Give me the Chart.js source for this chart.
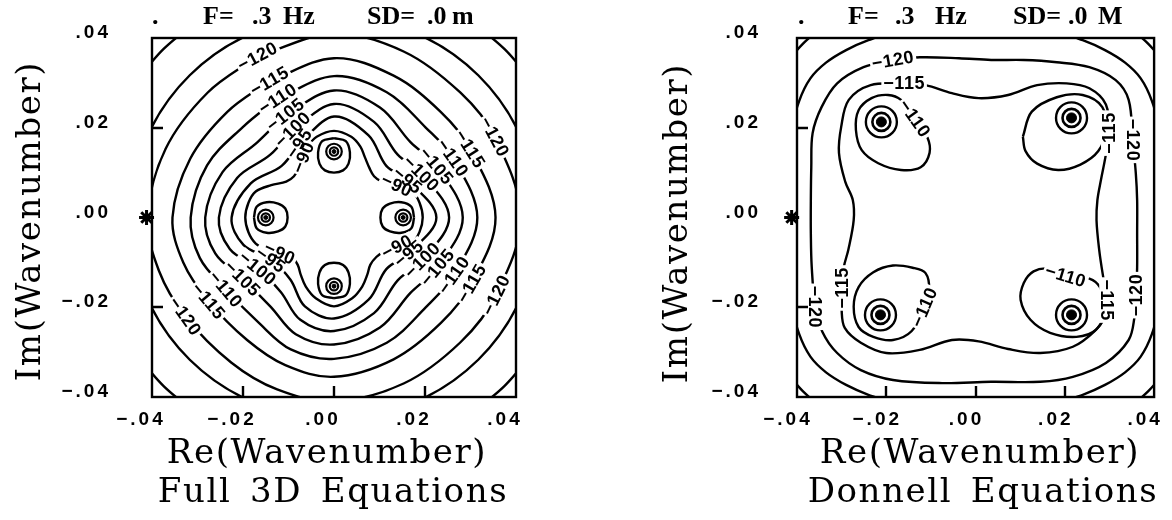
<!DOCTYPE html>
<html>
<head>
<meta charset="utf-8">
<title>Wavenumber contours</title>
<script src="https://cdn.jsdelivr.net/npm/chart.js@4.4.1/dist/chart.umd.min.js"></script>
<style>
  html, body { margin: 0; padding: 0; background: #fff; }
  #wrap { position: relative; width: 1172px; height: 520px; overflow: hidden; }
  .panel { position: absolute; top: 0; width: 586px; height: 520px; }
</style>
</head>
<body>
<div id="wrap">
  <div class="panel" style="left:0"><canvas id="left" width="586" height="520"></canvas></div>
  <div class="panel" style="left:586px"><canvas id="right" width="586" height="520"></canvas></div>
</div>
<script>
// all coordinates are in units of 1e-3 (axis runs -.04 .. .04)

// === Axes ===
const TICK_VALUES = [-40, -20, 0, 20, 40];
const TICK_LABELS = ['−.04', '−.02', '.00', '.02', '.04'];
const INNER_TICKS_X = [-20, 0, 20];
const INNER_TICKS_Y = [-20, 20];
const STAR = [-41.2, 0];

// === Left panel: Full 3D equations ===
const L_POLES = [[0, 14.7], [0, -15.3], [-15, 0], [15.2, 0]];

const L_130 = [
  [[-41.8, 32.6], [-37.5, 37.5], [-32.6, 41.8]],
  [[32.6, 41.8], [37.5, 37.5], [41.8, 32.6]],
  [[-41.8, -32.6], [-37.5, -37.5], [-32.6, -41.8]],
  [[32.6, -41.8], [37.5, -37.5], [41.8, -32.6]]
];
const L_125 = [[44.8, 0], [41.4, 17.2], [31.7, 31.7], [17.2, 41.4], [0, 44.8], [-17.2, 41.4], [-31.7, 31.7], [-41.4, 17.2], [-44.8, 0],
  [-41.4, -17.2], [-31.7, -31.7], [-17.2, -41.4], [0, -44.8], [17.2, -41.4], [31.7, -31.7], [41.4, -17.2], [44.8, 0]];
const L_120 = [[-16.8, 35.9], [-27.8, 27.8], [-37, 15.3], [-41, 0], [-38.5, -11.8], [-32.7, -22], [-22.6, -32.3], [-12.5, -38.3], [0, -41],
  [15.3, -37], [27.8, -27.8], [35.6, -17.3], [41, 0], [35.3, 18], [27.8, 27.8], [15.3, 37], [0, 41], [-16.8, 35.9]];
const L_115 = [[-14.2, 30.4], [-23.5, 23.5], [-31.6, 13.1], [-35.5, 0], [-33.1, -10.1], [-27.6, -18.6], [-19.1, -27.3], [-10.7, -32.9], [0, -35.5],
  [13.1, -31.6], [23.5, -23.5], [30.2, -14.7], [35.5, 0], [29.9, 15.3], [23.5, 23.5], [13.1, 31.6], [0, 35.5], [-14.2, 30.4]];
const L_110 = [[-12.4, 26.5], [-20.1, 20.1], [-27.9, 11.6], [-31.5, 0], [-29.5, -9], [-23.8, -16], [-16.5, -23.5], [-9.5, -29.4], [0, -31.5],
  [11.6, -27.9], [20.1, -20.1], [26.3, -12.8], [31.5, 0], [26.1, 13.3], [20.1, 20.1], [11.6, 27.9], [0, 31.5], [-12.4, 26.5]];
const L_105 = [[-10.7, 22.9], [-16.8, 16.8], [-24.5, 10.1], [-28.3, 0], [-26.1, -8], [-20.1, -13.6], [-13.9, -19.9], [-8.4, -26], [0, -28.3],
  [10.1, -24.5], [16.8, -16.8], [22.7, -11.1], [28.3, 0], [22.5, 11.5], [16.8, 16.8], [10.1, 24.5], [0, 28.3], [-10.7, 22.9]];
const L_100 = [[-9.1, 19.6], [-14, 14], [-21.3, 8.8], [-25.3, 0], [-22.9, -7], [-16.8, -11.3], [-11.7, -16.6], [-7.4, -22.8], [0, -25.3],
  [8.8, -21.3], [14, -14], [19.4, -9.5], [25.3, 0], [19.2, 9.8], [14, 14], [8.8, 21.3], [0, 25.3], [-9.1, 19.6]];
const L_95 = [[-7.7, 16.5], [-11.5, 11.5], [-18.3, 7.6], [-22.5, 0], [-19.9, -6.1], [-13.9, -9.4], [-9.6, -13.8], [-6.4, -19.8], [0, -22.5],
  [7.6, -18.3], [11.5, -11.5], [16.4, -8], [22.5, 0], [16.2, 8.3], [11.5, 11.5], [7.6, 18.3], [0, 22.5], [-7.7, 16.5]];
const L_90 = [[-6.8, 13.4], [-7.8, 11], [-8.8, 9.2], [-10.5, 8], [-13.8, 7.2], [-17.2, 5.8], [-18.8, 3.3], [-19.5, 0], [-18.8, -3.3],
  [-17.2, -5.8], [-14.5, -7.2], [-11.9, -7.9], [-9.3, -8.8], [-8, -10.5], [-7.3, -12.8], [-6.2, -15.4], [-4, -18], [0, -19.8],
  [4, -18], [6.2, -15.4], [7.3, -12.8], [8, -10.5], [9.3, -8.8], [10.8, -7.7], [13.8, -6.5], [17.2, -5.5], [18.8, -3.2], [19.5, 0],
  [18.8, 3.3], [17.2, 5.8], [13.8, 7.2], [10.5, 8], [8.8, 9.2], [7.8, 11], [6.8, 13.4], [5.8, 15.8], [3.8, 18], [0, 19.3],
  [-3.8, 18], [-5.8, 15.8], [-6.8, 13.4]];
const L_OVALS = [
  [[0, 17.7], [2.6, 17], [3.5, 14.5], [3.2, 12], [2, 10.5], [0, 10], [-2, 10.5], [-3.2, 12], [-3.5, 14.5], [-2.6, 17], [0, 17.7]],
  [[0, -18], [2.6, -17.3], [3.5, -14.8], [3.2, -12.3], [2, -10.6], [0, -10.1], [-2, -10.6], [-3.2, -12.3], [-3.5, -14.8], [-2.6, -17.3], [0, -18]],
  [[-17.6, 0], [-17, 2.4], [-14.8, 3.4], [-12.3, 3.1], [-10.7, 2], [-10.2, 0], [-10.7, -2], [-12.3, -3.1], [-14.8, -3.4], [-17, -2.4], [-17.6, 0]],
  [[17.6, 0], [17, 2.4], [14.8, 3.4], [12.3, 3.1], [10.7, 2], [10.2, 0], [10.7, -2], [12.3, -3.1], [14.8, -3.4], [17, -2.4], [17.6, 0]]
];
// [text, x, y, rotation in degrees]
const L_LABELS = [
  ['−120', -16.8, 35.9, -28], ['−115', -14.2, 30.4, -30], ['−110', -12.4, 26.5, -33], ['−105', -10.7, 22.9, -38],
  ['−100', -9.1, 19.6, -45], ['−95', -7.7, 16.5, -55], ['−90', -6.8, 13.4, -68],
  ['−120', 35.3, 18, 62], ['−115', 29.9, 15.3, 58], ['−110', 26.1, 13.3, 55], ['−105', 22.5, 11.5, 50],
  ['−100', 19.2, 9.8, 45], ['−95', 16.2, 8.3, 40], ['−90', 13.8, 7.2, 25],
  ['−120', 35.6, -17.3, -64], ['−115', 30.2, -14.7, -60], ['−110', 26.3, -12.8, -55], ['−105', 22.7, -11.1, -50],
  ['−100', 19.4, -9.5, -45], ['−95', 16.4, -8, -40], ['−90', 13.8, -6.5, -28],
  ['−120', -32.7, -22, 55], ['−115', -27.6, -18.6, 50], ['−110', -23.8, -16, 50], ['−105', -20.1, -13.6, 45],
  ['−100', -16.8, -11.3, 40], ['−95', -13.9, -9.4, 35], ['−90', -11.9, -7.9, 25]
];

// === Right panel: Donnell equations ===
const R_POLES = [[-21.1, 21.3], [21.5, 22.2], [-21.3, -21.7], [21.5, -21.7]];

const R_130 = [
  [[-41.5, 35.6], [-38.7, 38.7], [-35.6, 41.5]],
  [[35.6, 41.5], [38.7, 38.7], [41.5, 35.6]],
  [[-41.5, -35.6], [-38.7, -38.7], [-35.6, -41.5]],
  [[35.6, -41.5], [38.7, -38.7], [41.5, -35.6]]
];
const R_125 = [[41.5, 0], [41, 20], [39.5, 26], [37, 31], [33.5, 34.5], [29, 37.3], [24, 39.5], [19, 41], [0, 41.5],
  [-19, 41], [-24, 39.5], [-29, 37.3], [-33.5, 34.5], [-37, 31], [-39.5, 26], [-41, 20], [-41.5, 0],
  [-41, -20], [-39.5, -26], [-37, -31], [-33.5, -34.5], [-29, -37.3], [-24, -39.5], [-19, -41], [0, -41.5],
  [19, -41], [24, -39.5], [29, -37.3], [33.5, -34.5], [37, -31], [39.5, -26], [41, -20], [41.5, 0]];
const R_120 = [[-18.5, 35.1], [-25.1, 33.5], [-31, 29.9], [-34.5, 24.6], [-36.5, 18.8], [-36.8, 11.2], [-36.9, 3.9], [-36.9, -3.5],
  [-36.7, -11], [-35.9, -19.9], [-34.3, -25.5], [-31, -30.2], [-25.7, -34], [-18.5, -36.2], [-7.5, -36.9], [3.5, -36.6],
  [14.5, -36.6], [21.8, -35.5], [29.2, -32.4], [34.3, -27.3], [35.6, -22.2], [36, -17.3], [36.2, -11], [36.2, -3.5],
  [36.2, 3.9], [35.9, 9.9], [35.2, 17.3], [34.3, 26.2], [31.4, 30.6], [25.5, 33.5], [18.2, 34.6], [10.8, 35.1],
  [3.5, 35.1], [-3.7, 35.5], [-12.5, 35.7], [-18.5, 35.1]];
const R_115 = [[-16, 29.9], [-23.5, 29.5], [-28.4, 26.2], [-30.1, 20.2], [-30.6, 14.4], [-29.2, 8], [-27.5, 3.9], [-27.3, -0.6],
  [-28.5, -7.2], [-29.5, -11], [-29.9, -15.7], [-30, -20.6], [-29.3, -24.6], [-25.7, -27.9], [-20, -30.2], [-12.5, -29.5],
  [-5.3, -27.3], [0.7, -27.6], [7.3, -29.3], [14.5, -30.2], [21.8, -28.8], [26.8, -25.2], [28.9, -22], [29.5, -18.4],
  [28.6, -13.3], [27.7, -7.2], [27.1, -0.6], [27.3, 3.9], [28.1, 8.4], [29.1, 13.5], [29.9, 18.8], [29.2, 25.2],
  [25.5, 28.8], [20.4, 29.9], [13.8, 29.5], [7.3, 27.3], [0.7, 26.6], [-5.3, 27.7], [-11.2, 29.5], [-16, 29.9]];
const R_110 = [
  [[-13.6, 22.1], [-10.8, 17.9], [-10.3, 14.4], [-12.3, 11.2], [-16.7, 10.6], [-21.8, 12.1], [-25.5, 15], [-26.8, 19.5],
   [-26.2, 23.9], [-23.3, 26.6], [-19.6, 27.3], [-16.7, 26.2], [-13.6, 22.1]],
  [[10.6, 18], [12.6, 23.6], [18.2, 26.8], [24, 27.3], [28.4, 24.6], [29.2, 19.5], [27.5, 14.8], [23.5, 11.8],
   [18.5, 10.6], [13.8, 12], [11.2, 14.8], [10.6, 18]],
  [[-11.5, -20], [-10.4, -16.1], [-11.2, -12.4], [-14.1, -11.2], [-18.5, -10.7], [-22.9, -12.2], [-26.2, -15.5],
   [-27.3, -19.9], [-26.2, -24.4], [-22.9, -26.6], [-18.5, -27.3], [-14.3, -25.3], [-11.5, -20]],
  [[20.2, -13], [25.5, -13.6], [27.9, -15.6], [29.2, -20.6], [27, -25], [22.6, -26.6], [16.7, -25.7], [12.3, -22.8],
   [10.1, -18.4], [10.8, -14.6], [13, -12], [16.5, -11.4], [20.2, -13]]
];
const R_LABELS = [
  ['−120', -18.5, 35.1, -10], ['−115', -16, 29.9, 0], ['−110', -13.6, 22.1, 55],
  ['−115', 29.9, 18.8, -90], ['−120', 35.2, 17.3, 90],
  ['−115', 29.5, -18.4, 90], ['−120', 36, -17.3, -90],
  ['−115', -29.9, -15.7, -90], ['−120', -35.9, -19.9, 90],
  ['−110', -11.5, -20, -67], ['−110', 20.2, -13, 17]
];

// === Dataset builders ===
const toXY = (pts) => pts.map(([x, y]) => ({ x, y }));

function contour(pts) {
  return {
    data: toXY(pts), showLine: true, pointRadius: 0, borderColor: '#000',
    borderWidth: 2.4, tension: 0.35, fill: false
  };
}

function poleMark(pts, radius, width, filled) {
  return {
    data: toXY(pts), showLine: false, pointRadius: radius, pointBorderWidth: width,
    borderColor: '#000', pointBorderColor: '#000',
    backgroundColor: filled ? '#000' : 'rgba(0,0,0,0)',
    pointBackgroundColor: filled ? '#000' : 'rgba(0,0,0,0)'
  };
}

function starMark() {
  return {
    data: toXY([STAR]), showLine: false, pointStyle: 'star', pointRadius: 7.5,
    pointBorderWidth: 3, borderColor: '#000', pointBorderColor: '#000', clip: false
  };
}

const leftSets = [
  ...L_130.map(contour), contour(L_125), contour(L_120), contour(L_115), contour(L_110),
  contour(L_105), contour(L_100), contour(L_95), contour(L_90), ...L_OVALS.map(contour),
  poleMark(L_POLES, 7.8, 2.2, false), poleMark(L_POLES, 4.2, 2.2, false), poleMark(L_POLES, 2, 1, true),
  starMark()
];

const rightSets = [
  ...R_130.map(contour), contour(R_125), contour(R_120), contour(R_115), ...R_110.map(contour),
  poleMark(R_POLES, 15.5, 2.4, false), poleMark(R_POLES, 9, 2.6, false), poleMark(R_POLES, 5, 1, true),
  starMark()
];

// === Labels, frame, titles ===
function drawLabels(chart, list) {
  const { ctx, scales: { x, y } } = chart;
  ctx.save();
  ctx.font = 'bold 18px "Liberation Sans"';
  ctx.letterSpacing = '0.5px';
  ctx.textAlign = 'center';
  ctx.textBaseline = 'middle';
  const placed = list.map(([t, u, w, rot]) => ({
    t, px: x.getPixelForValue(u), py: y.getPixelForValue(w),
    a: rot * Math.PI / 180, wd: ctx.measureText(t).width
  }));
  ctx.fillStyle = '#fff';
  placed.forEach((p) => {
    ctx.save(); ctx.translate(p.px, p.py); ctx.rotate(p.a);
    ctx.fillRect(-p.wd / 2 - 2, -8, p.wd + 4, 16);
    ctx.restore();
  });
  ctx.fillStyle = '#000';
  placed.forEach((p) => {
    ctx.save(); ctx.translate(p.px, p.py); ctx.rotate(p.a);
    ctx.fillText(p.t, 0, 1);
    ctx.restore();
  });
  ctx.restore();
}

function decor(cfg) {
  return {
    id: 'decor',
    beforeDraw(chart) { chart.ctx.letterSpacing = '3px'; },
    afterDraw(chart) {
      const { ctx, chartArea: a, scales: { x, y } } = chart;
      drawLabels(chart, cfg.labels);
      ctx.save();
      ctx.letterSpacing = '0px';
      ctx.strokeStyle = '#000';
      ctx.lineWidth = 2.4;
      ctx.strokeRect(a.left, a.top, a.right - a.left, a.bottom - a.top);
      ctx.beginPath();
      INNER_TICKS_X.forEach((v) => {
        const px = Math.round(x.getPixelForValue(v));
        ctx.moveTo(px, a.bottom); ctx.lineTo(px, a.bottom - 11);
      });
      INNER_TICKS_Y.forEach((v) => {
        const py = Math.round(y.getPixelForValue(v));
        ctx.moveTo(a.left, py); ctx.lineTo(a.left + 11, py);
      });
      ctx.stroke();

      ctx.fillStyle = '#000';
      ctx.font = 'bold 26px "Liberation Serif"';
      ctx.textAlign = 'left';
      ctx.textBaseline = 'alphabetic';
      cfg.header.forEach(([t, hx]) => ctx.fillText(t, hx, 24));

      ctx.font = '34px "DejaVu Serif"';
      ctx.letterSpacing = '1.6px';
      ctx.textAlign = 'center';
      cfg.captions.forEach(([t, cx, cy]) => ctx.fillText(t, cx, cy));
      const [yt, yx, yy] = cfg.yTitle;
      ctx.translate(yx, yy);
      ctx.rotate(-Math.PI / 2);
      ctx.fillText(yt, 0, 0);
      ctx.restore();
    }
  };
}

const tickFont = { family: 'Liberation Sans', weight: 'bold', size: 19 };
const setTicks = (axis) => { axis.ticks = TICK_VALUES.map((v) => ({ value: v })); };
const tickText = (v) => TICK_LABELS[TICK_VALUES.indexOf(v)] ?? '';

function makeChart(id, datasets, cfg) {
  return new Chart(document.getElementById(id), {
    type: 'scatter',
    data: { datasets },
    options: {
      responsive: false,
      animation: false,
      devicePixelRatio: 1,
      events: [],
      layout: { padding: { left: 0, right: cfg.padRight, top: 38, bottom: 0 } },
      elements: { line: { capBezierPoints: false } },
      plugins: { legend: { display: false }, tooltip: { enabled: false } },
      scales: {
        x: {
          type: 'linear', min: -40, max: 40,
          afterBuildTicks: setTicks,
          afterFit: (s) => { s.height = 123; s.paddingLeft = 0; s.paddingRight = 0; },
          grid: { display: false, drawTicks: false },
          border: { display: false },
          ticks: { callback: tickText, font: tickFont, color: '#000', padding: 11,
                   labelOffset: cfg.xLabelOffset, maxRotation: 0, autoSkip: false }
        },
        y: {
          type: 'linear', min: -40, max: 40,
          afterBuildTicks: setTicks,
          afterFit: (s) => { s.width = cfg.yAxisWidth; s.paddingTop = 0; s.paddingBottom = 0; },
          grid: { display: false, drawTicks: false },
          border: { display: false },
          ticks: { callback: tickText, font: tickFont, color: '#000', padding: cfg.yPad,
                   labelOffset: -5, autoSkip: false }
        }
      }
    },
    plugins: [decor(cfg)]
  });
}

// === Init ===
makeChart('left', leftSets, {
  yAxisWidth: 152, padRight: 70, yPad: 41, xLabelOffset: -11,
  labels: L_LABELS,
  header: [['.', 152], ['F=', 203], ['.3', 252], ['Hz', 283], ['SD=', 367], ['.0', 427], ['m', 452]],
  captions: [['Re(Wavenumber)', 327, 463], ['Full\u20023D\u2002Equations', 333, 502]],
  yTitle: ['Im(Wavenumber)', 40, 221]
});

makeChart('right', rightSets, {
  yAxisWidth: 211, padRight: 11, yPad: 36, xLabelOffset: -9,
  labels: R_LABELS,
  header: [['.', 212], ['F=', 262], ['.3', 309], ['Hz', 349], ['SD=', 427], ['.0', 482], ['M', 512]],
  captions: [['Re(Wavenumber)', 394, 463], ['Donnell\u2002Equations', 397, 502]],
  yTitle: ['Im(Wavenumber)', 101, 223]
});
</script>
</body>
</html>
